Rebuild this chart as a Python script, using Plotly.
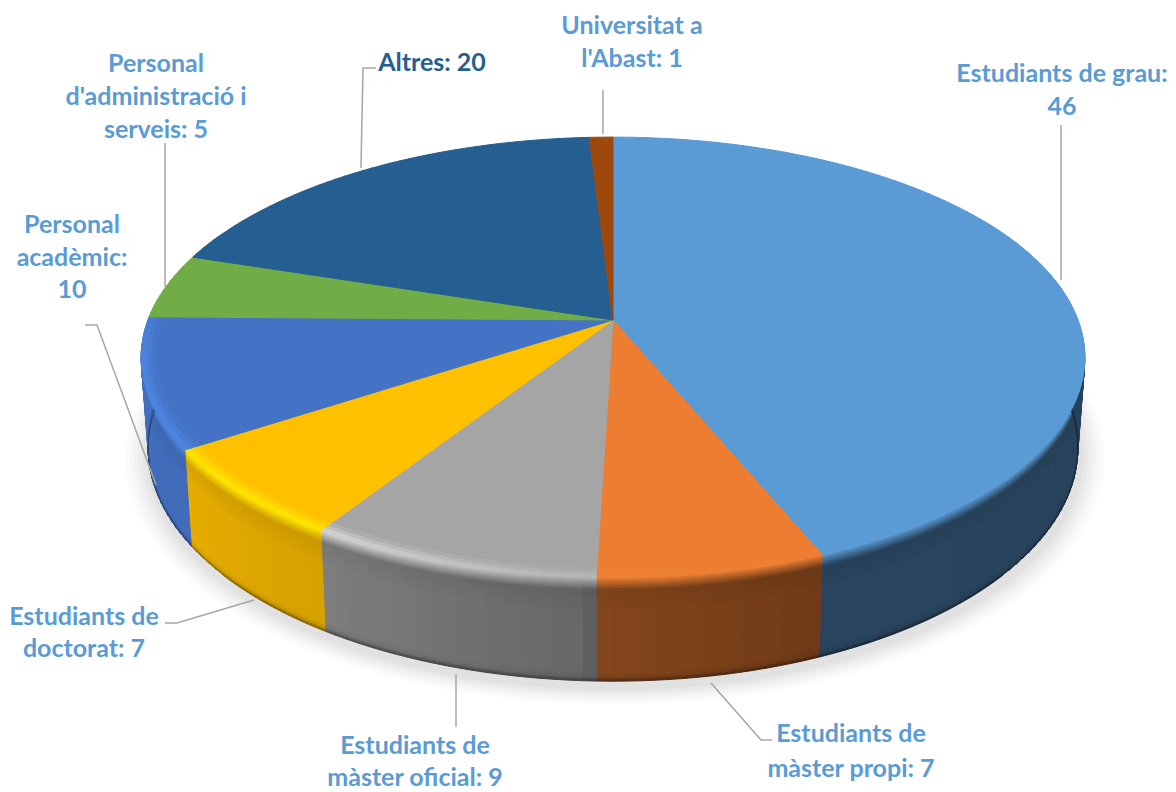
import math
from collections import OrderedDict
import plotly.graph_objects as go

# ---- data ----
categories = ["Estudiants de grau", "Estudiants de màster propi", "Estudiants de màster oficial",
              "Estudiants de doctorat", "Personal acadèmic", "Personal d'administració i serveis",
              "Altres", "Universitat a l'Abast"]
values = [46, 7, 9, 7, 10, 5, 20, 1]
label_lines = [["Estudiants de grau:", "46"], ["Estudiants de", "màster propi: 7"],
               ["Estudiants de", "màster oficial: 9"], ["Estudiants de", "doctorat: 7"],
               ["Personal", "acadèmic:", "10"], ["Personal", "d'administració i", "serveis: 5"],
               ["Altres: 20"], ["Universitat a", "l'Abast: 1"]]

# ---- styling / placement ----
top_colors = ["#5b9bd5", "#ed7d31", "#a5a5a5", "#ffc000", "#4472c4", "#70ad47", "#255e91", "#9e480e"]
rim_colors = ["#5b9bd5", "#f08a3c", "#dcdcdc", "#ffe800", "#4f8ae6", "#70ad47", "#255e91", "#9e480e"]
label_colors = ["#5b9bd5"] * 6 + ["#255e91", "#5b9bd5"]
label_x = [1062, 851, 415, 84, 72, 156, 432, 632]
label_y = [[76, 109], [736, 771], [748, 780], [619, 651], [227, 260, 292], [66, 99, 132], [65], [28, 61]]
leaders = [[(1061, 125), (1061, 280)], [(711, 683), (761, 740), (772, 740)], [(456, 674), (456, 727)],
           [(165, 623), (177, 623), (254, 600)], [(85, 325), (97, 325), (156, 485)],
           [(165, 143), (165, 287)], [(376, 68), (363, 68), (361, 168)], [(603, 90), (603, 134)]]
CX, CY, R, RB, K, H = 613, 320, 465, 214, 0.17, 89

shade_t = [60, 157, 158, 182, 183, 212, 213, 236, 237, 290]
shade_f = [.42, .44, .47, .56, .62, .76, .84, .90, .95, .97]


def project(t, r=1.0, z=0.0):
    a = math.radians(t)
    X, Y = r * math.sin(a), -r * math.cos(a)
    s = 1 / (1 - K * Y)
    zs = 1 - 0.015 * z
    return CX + R * X * s * zs, CY + RB * Y * s * zs + H * z * s


def interp(x, xs, ys):
    if x <= xs[0]:
        return ys[0]
    for i in range(1, len(xs)):
        if x <= xs[i]:
            return ys[i - 1] + (ys[i] - ys[i - 1]) * (x - xs[i - 1]) / (xs[i] - xs[i - 1])
    return ys[-1]


def rgb(h):
    return [int(h[i:i + 2], 16) for i in (1, 3, 5)]


def mix(a, b, f):
    return [a[i] + (b[i] - a[i]) * f for i in range(3)]


def hexc(c, q=1):
    return "#%02x%02x%02x" % tuple(max(0, min(255, int(round(v / q) * q))) for v in c)


layers = OrderedDict()


def add(layer, color, pts):
    d = layers.setdefault((layer, color), ([], []))
    d[0].extend([p[0] for p in pts] + [pts[0][0], None])
    d[1].extend([p[1] for p in pts] + [pts[0][1], None])


def frange(a, b, step=1.0):
    n = max(1, int(math.ceil((b - a) / step)))
    return [a + (b - a) * i / n for i in range(n + 1)]


total = sum(values)
starts = []
acc = 0
for v in values:
    starts.append(acc / total * 360)
    acc += v

Z_BANDS = [0, .015, .03, .045, .06, .075, .09, .105, .12, .15, .19, .24, .3, .92, .95, .975, .99, 1]


def z_shade(z):
    return interp(z, [.12, .2, .34, .92, .97, 1], [.94, .96, 1, 1, .92, .6])


def rim_amount(t):
    return interp(t, [150, 185, 215, 262, 285], [0, .35, 1, .8, 0])


# side of the disc
for i, v in enumerate(values):
    a0, a1 = starts[i], starts[i] + v / total * 360
    a0c, a1c = max(a0, 60), min(a1, 295)
    if a1c <= a0c:
        continue
    top, hl = rgb(top_colors[i]), rgb(rim_colors[i])
    ts = frange(a0c, a1c, 1.5)
    for j in range(len(ts) - 1):
        tm = (ts[j] + ts[j + 1]) / 2
        side = [c * interp(tm, shade_t, shade_f) for c in top]
        rim = mix(top, hl, rim_amount(tm))
        for b in range(len(Z_BANDS) - 1):
            z0, z1 = Z_BANDS[b], Z_BANDS[b + 1]
            zm = (z0 + z1) / 2
            body = [c * z_shade(zm) for c in side]
            col = mix(rim, body, zm / .12) if zm < .12 else body
            add(10 + b, hexc(col, 2), [project(ts[j], 1, z0), project(ts[j + 1], 1, z0),
                                       project(ts[j + 1], 1, z1), project(ts[j], 1, z1)])

# top face
R_BANDS = [.968, .98, .99, 1.0]
for i, v in enumerate(values):
    a0, a1 = starts[i], starts[i] + v / total * 360
    top, hl = rgb(top_colors[i]), rgb(rim_colors[i])
    ts = frange(a0, a1, 1.5)
    add(40 + i, top_colors[i], [(CX, CY)] + [project(t, R_BANDS[0]) for t in ts])
    for j in range(len(ts) - 1):
        tm = (ts[j] + ts[j + 1]) / 2
        rim = mix(top, hl, rim_amount(tm))
        for b in range(len(R_BANDS) - 1):
            r0, r1 = R_BANDS[b], R_BANDS[b + 1]
            f = ((r0 + r1) / 2 - R_BANDS[0]) / (1 - R_BANDS[0])
            add(60 + b, hexc(mix(top, rim, f)), [project(ts[j], r0), project(ts[j + 1], r0),
                                                 project(ts[j + 1], r1), project(ts[j], r1)])

fig = go.Figure()

# soft shadow under the disc
shadow_steps = [(24, "#fbfbfb"), (20, "#f7f7f7"), (16, "#f2f2f2"), (12, "#ededed"), (8, "#e7e7e7"), (4, "#e1e1e1")]
for e, col in shadow_steps:
    pts = [project(t, 1 + e / 470, 1) for t in frange(0, 360, 2)]
    fig.add_trace(go.Scatter(x=[p[0] + 2 for p in pts], y=[p[1] + 6 for p in pts], mode="lines", fill="toself",
                             fillcolor=col, line=dict(color=col, width=0), hoverinfo="skip"))

for key in sorted(layers, key=lambda k: k[0]):
    xs, ys = layers[key]
    fig.add_trace(go.Scatter(x=xs, y=ys, mode="lines", fill="toself", fillcolor=key[1],
                             line=dict(color=key[1], width=1), hoverinfo="skip"))

# leader lines
for seg in leaders:
    fig.add_trace(go.Scatter(x=[p[0] for p in seg], y=[p[1] for p in seg], mode="lines",
                             line=dict(color="#a6a6a6", width=1.5), hoverinfo="skip"))

# labels
for i, lines in enumerate(label_lines):
    fig.add_trace(go.Scatter(x=[label_x[i]] * len(lines), y=label_y[i], text=lines, mode="text",
                             textposition="middle center", hoverinfo="skip", cliponaxis=False,
                             textfont=dict(family="Lato", size=25, color=label_colors[i], weight="bold")))

fig.update_layout(width=1176, height=792, margin=dict(l=0, r=0, t=0, b=0), showlegend=False,
                  paper_bgcolor="white", plot_bgcolor="white",
                  xaxis=dict(range=[0, 1176], visible=False, fixedrange=True),
                  yaxis=dict(range=[792, 0], visible=False, fixedrange=True))
fig.write_html("out.html", config=dict(displayModeBar=False),
               post_script="document.body.style.margin='0';document.documentElement.style.overflow='hidden';")
